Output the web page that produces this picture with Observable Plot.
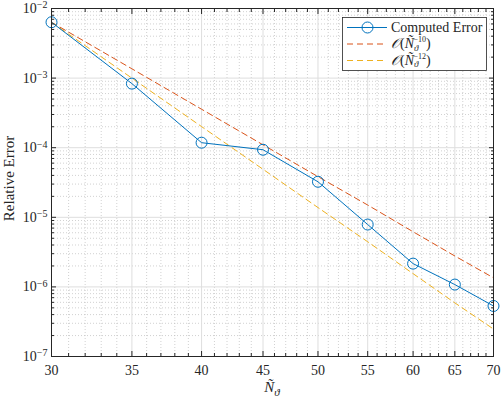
<!DOCTYPE html>
<html><head><meta charset="utf-8">
<script src="https://cdn.jsdelivr.net/npm/d3@7"></script>
<script src="https://cdn.jsdelivr.net/npm/@observablehq/plot@0.6"></script>
<style>
html,body{margin:0;padding:0;background:#fff;}
#chart svg{display:block;}
</style></head><body><div id="chart"></div>
<script>
const N = [30, 35, 40, 45, 50, 55, 60, 65, 70];
const computedError = [6.35e-3, 8.33e-4, 1.18e-4, 9.35e-5, 3.24e-5, 7.87e-6, 2.16e-6, 1.08e-6, 5.32e-7];
const order10 = [6.35e-3, 1.36e-3, 3.57e-4, 1.10e-4, 3.84e-5, 1.50e-5, 6.20e-6, 2.78e-6, 1.35e-6];
const order12 = [6.35e-3, 9.99e-4, 2.01e-4, 4.90e-5, 1.38e-5, 4.45e-6, 1.55e-6, 5.9e-7, 2.48e-7];
const xTicks = [30, 35, 40, 45, 50, 55, 60, 65, 70];
const yTicks = [1e-7, 1e-6, 1e-5, 1e-4, 1e-3, 1e-2];
const legendLabels = ["Computed Error", "−10", "−12"];

const blue = "#0072BD", red = "#D95319", yellow = "#EDB120", axisColor = "#262626";
const rows = N.map((n, i) => ({n, e: computedError[i], o10: order10[i], o12: order12[i]}));
const xMinor = d3.range(31, 70).filter(v => v % 5 !== 0);
const yMinor = yTicks.slice(0, -1).flatMap(d => d3.range(2, 10).map(k => k * d));

const font = "'Liberation Serif', 'DejaVu Serif', serif";
const blank = () => "";

const plot = Plot.plot({
  width: 501, height: 398,
  marginLeft: 51, marginRight: 8, marginTop: 8, marginBottom: 42,
  style: {fontFamily: font, fontSize: "14px", color: axisColor, background: "#fff"},
  x: {type: "log", domain: [30, 70]},
  y: {type: "log", domain: [1e-7, 1e-2]},
  marks: [
    Plot.gridX(xMinor, {stroke: "#bdbdbd", strokeOpacity: 1, strokeDasharray: "1,2", strokeWidth: 0.7}),
    Plot.gridY(yMinor, {stroke: "#bdbdbd", strokeOpacity: 1, strokeDasharray: "1,2", strokeWidth: 0.7}),
    Plot.gridX(xTicks, {stroke: "#dedede", strokeOpacity: 1}),
    Plot.gridY(yTicks, {stroke: "#dedede", strokeOpacity: 1}),
    Plot.line(rows, {x: "n", y: "o10", stroke: red, strokeWidth: 1, strokeDasharray: "6,4"}),
    Plot.line(rows, {x: "n", y: "o12", stroke: yellow, strokeWidth: 1, strokeDasharray: "6,4"}),
    Plot.line(rows, {x: "n", y: "e", stroke: blue, strokeWidth: 1}),
    Plot.dot(rows, {x: "n", y: "e", r: 5.5, stroke: blue, fill: "none", strokeWidth: 1}),
    Plot.frame({stroke: axisColor, strokeWidth: 1}),
    // labels
    Plot.axisX(xTicks, {anchor: "bottom", tickSize: 0, tickPadding: 9, label: null, tickFormat: d => String(d)}),
    Plot.axisY(yTicks, {anchor: "left", tickSize: 0, tickPadding: 4, label: null, tickFormat: d => "10^" + Math.round(Math.log10(d))}),
    // inward major ticks on all sides
    Plot.axisX(xTicks, {anchor: "bottom", tickSize: -5, label: null, tickFormat: blank}),
    Plot.axisX(xTicks, {anchor: "top", tickSize: -5, label: null, tickFormat: blank}),
    Plot.axisY(yTicks, {anchor: "left", tickSize: -5, label: null, tickFormat: blank}),
    Plot.axisY(yTicks, {anchor: "right", tickSize: -5, label: null, tickFormat: blank}),
    // inward minor ticks
    Plot.axisX(xMinor, {anchor: "bottom", tickSize: -3, label: null, tickFormat: blank}),
    Plot.axisX(xMinor, {anchor: "top", tickSize: -3, label: null, tickFormat: blank}),
    Plot.axisY(yMinor, {anchor: "left", tickSize: -3, label: null, tickFormat: blank}),
    Plot.axisY(yMinor, {anchor: "right", tickSize: -3, label: null, tickFormat: blank})
  ]
});
document.getElementById("chart").appendChild(plot);

const svg = d3.select(plot);
// superscript y tick labels
svg.selectAll("text").each(function() {
  const t = this.textContent;
  if (t.startsWith("10^")) {
    const exp = t.slice(3).replace("-", "−");
    const sel = d3.select(this);
    sel.text(null);
    sel.append("tspan").text("10");
    sel.append("tspan").attr("dy", "-0.45em").attr("font-size", "10px").text(exp);
  }
});

// axis labels
const xl = svg.append("text").attr("x", 272).attr("y", 392).attr("text-anchor", "middle")
  .attr("font-family", font).attr("font-size", "15px").attr("fill", axisColor);
xl.append("tspan").attr("font-style", "italic").text("Ñ");
xl.append("tspan").attr("font-style", "italic").attr("font-size", "11px").attr("dy", "4").text("ϑ");

svg.append("text").attr("transform", "translate(13.5,178.5) rotate(-90)").attr("text-anchor", "middle")
  .attr("font-family", font).attr("font-size", "15px").attr("fill", axisColor).text("Relative Error");

// legend
const lg = svg.append("g").attr("font-family", font).attr("font-size", "14px").attr("fill", axisColor)
  .attr("text-anchor", "start");
lg.append("rect").attr("x", 342.5).attr("y", 17.5).attr("width", 144).attr("height", 53)
  .attr("fill", "#fff").attr("stroke", axisColor).attr("stroke-width", 0.8);
const ly = [27.5, 44, 60.5];
const lcol = [blue, red, yellow];
ly.forEach((y, i) => {
  lg.append("line").attr("x1", 347).attr("x2", 387).attr("y1", y).attr("y2", y)
    .attr("stroke", lcol[i]).attr("stroke-width", 1).attr("stroke-dasharray", i ? "6,4" : null);
  if (i === 0) {
    lg.append("circle").attr("cx", 367.5).attr("cy", y).attr("r", 5.5).attr("fill", "none").attr("stroke", blue);
    lg.append("text").attr("text-anchor", "start").attr("x", 391).attr("y", y + 4.5).text(legendLabels[0]);
  } else {
    const t = lg.append("text").attr("text-anchor", "start").attr("x", 391).attr("y", y + 4);
    t.append("tspan").attr("font-style", "italic").text("𝒪");
    t.append("tspan").text("(");
    t.append("tspan").attr("font-style", "italic").text("Ñ");
    t.append("tspan").attr("font-style", "italic").attr("font-size", "9px").attr("dy", 2.5).text("ϑ");
    t.append("tspan").attr("font-size", "8px").attr("dx", -5).attr("dy", -8.5).text(legendLabels[i]);
    t.append("tspan").attr("dy", 6).text(")");
  }
});
</script></body></html>
